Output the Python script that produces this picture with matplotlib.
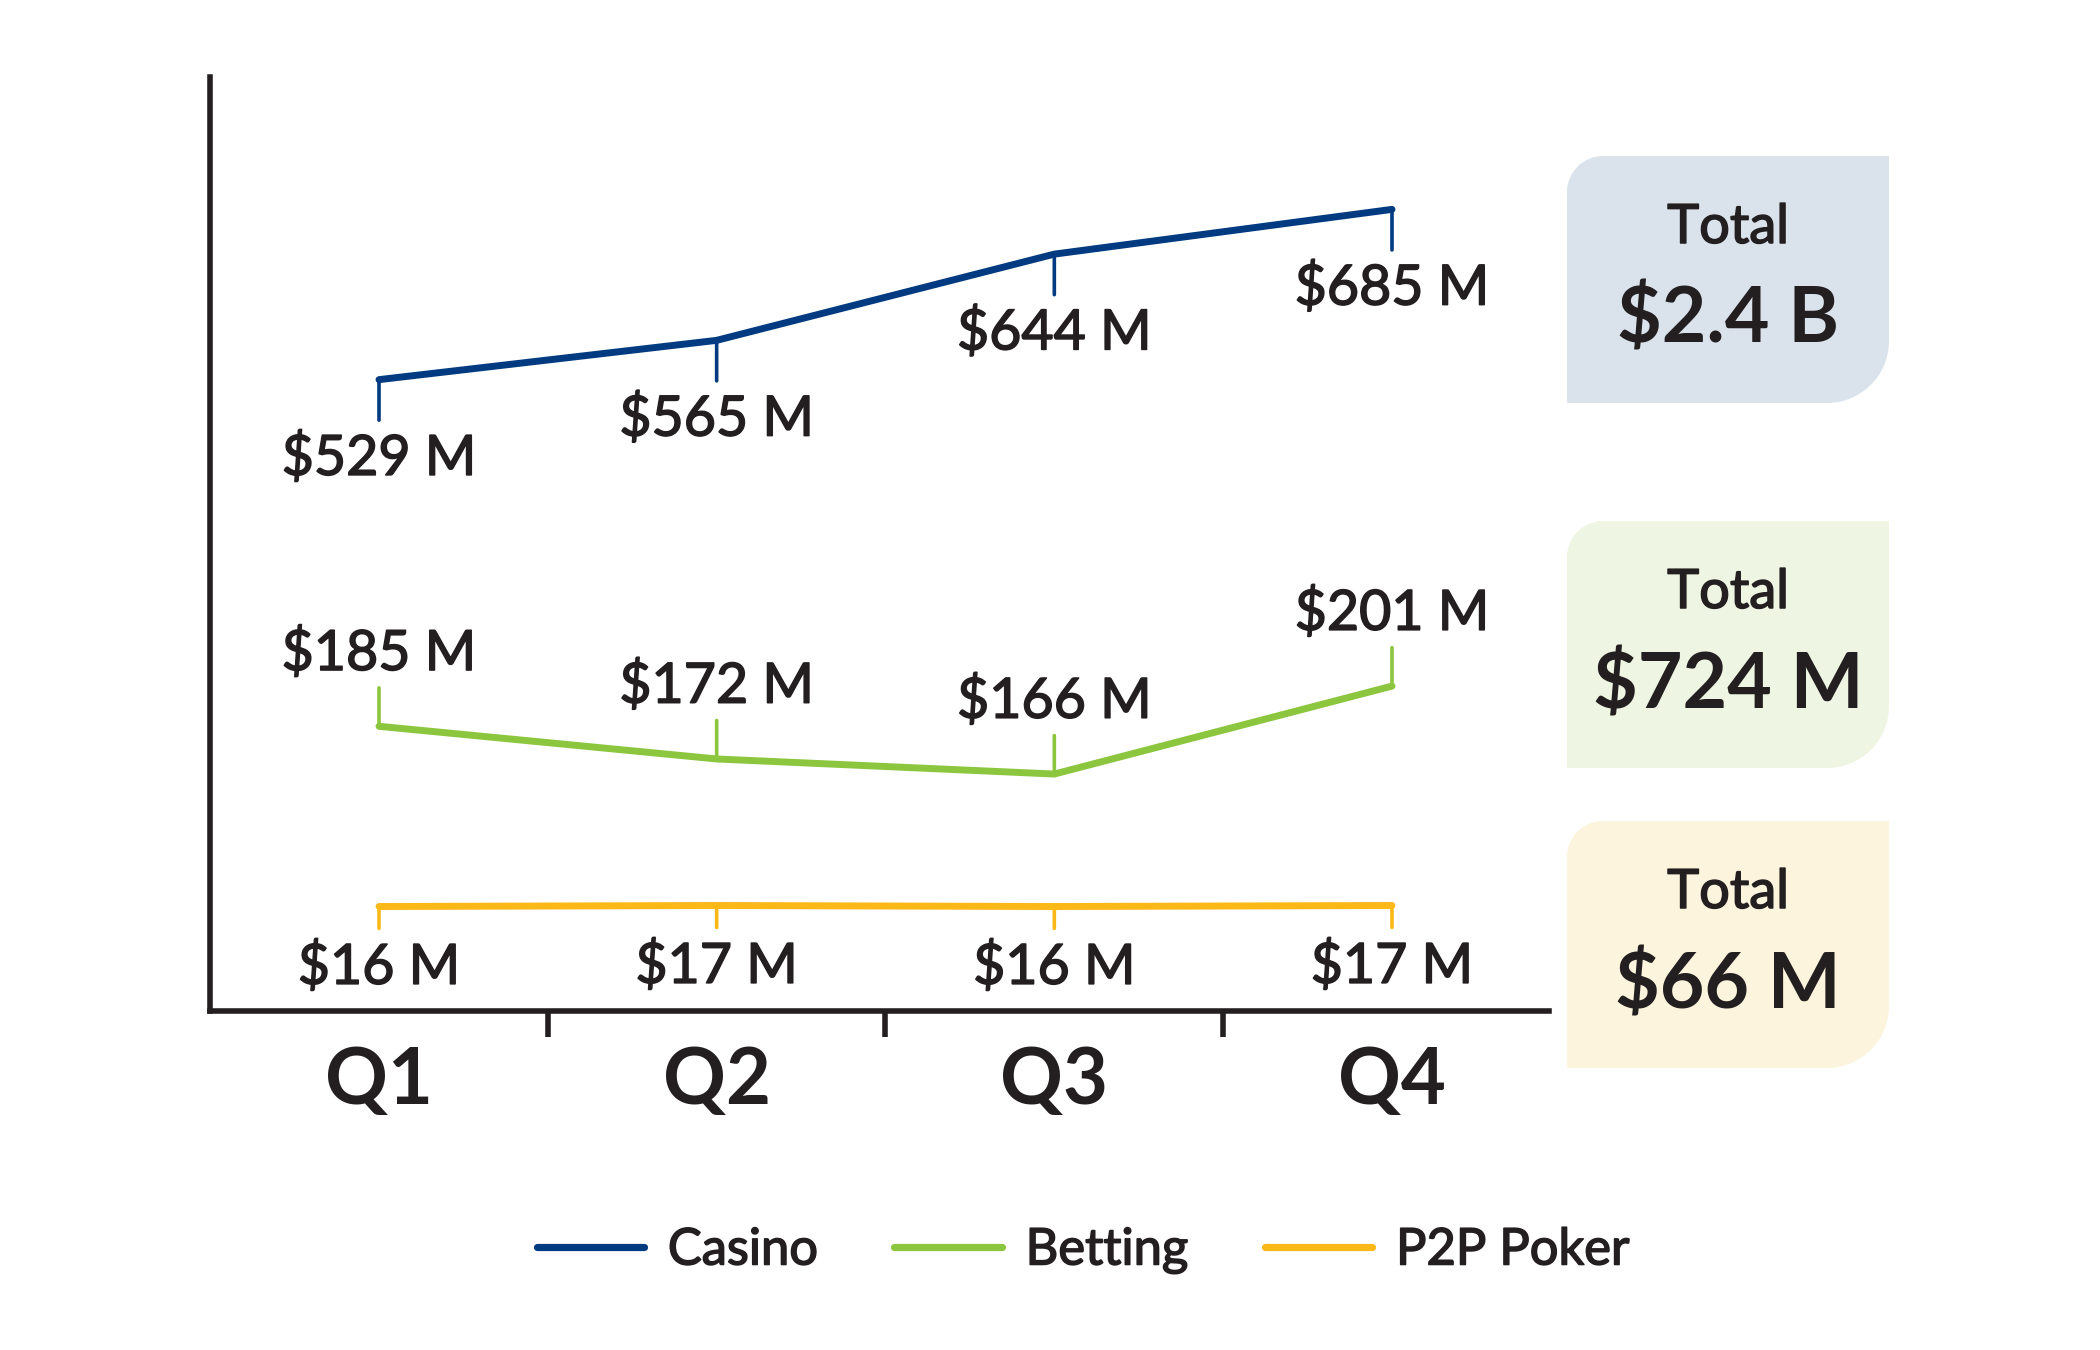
import numpy as np
import matplotlib
matplotlib.use("Agg")
import matplotlib.pyplot as plt
import matplotlib.patheffects as pe
from matplotlib.path import Path
from matplotlib.patches import PathPatch
from matplotlib.lines import Line2D

plt.rcParams['font.family'] = ['Lato', 'DejaVu Sans']

# data
quarters = ['Q1', 'Q2', 'Q3', 'Q4']
casino = [529, 565, 644, 685]
betting = [185, 172, 166, 201]
poker = [16, 17, 16, 17]
totals = ['$2.4 B', '$724 M', '$66 M']
series_names = ['Casino', 'Betting', 'P2P Poker']

TXT = '#231f20'
C_CASINO = '#003a80'
C_BET = '#8cc63f'
C_POKER = '#fbb817'

# the source uses a medium weight; fake it with a thin stroke on the regular face
medium = [pe.withStroke(linewidth=1.1, foreground=TXT)]

fig = plt.figure(figsize=(21, 13.5), dpi=100)

# background layer for the total boxes (pixel coords, y down)
bg = fig.add_axes([0, 0, 1, 1])
bg.set_xlim(0, 2100)
bg.set_ylim(1350, 0)
bg.axis('off')

ax = fig.add_axes([210 / 2100, 1 - 1011 / 1350, 1339 / 2100, 934 / 1350])
ax.patch.set_alpha(0)
x = np.arange(len(quarters))
ax.set_xlim(-0.5005, 3.465)

# each series sits in its own band, so give every one its own y scale
ax_bet = ax.twinx()
ax_pok = ax.twinx()
ax.set_ylim(-49.5, 806.3)
ax_bet.set_ylim(71.7, 443.4)
ax_pok.set_ylim(-89.5, 853.5)

for a in (ax_bet, ax_pok):
    a.axis('off')

for s in ['top', 'right']:
    ax.spines[s].set_visible(False)
for s in ['left', 'bottom']:
    ax.spines[s].set_linewidth(4.0)
    ax.spines[s].set_color(TXT)
    ax.spines[s].set_capstyle('projecting')
ax.set_yticks([])
ax.set_xticks(x)
ax.set_xticklabels(quarters, fontsize=56, fontweight='bold', color=TXT)
ax.tick_params(axis='x', which='major', length=0, pad=25)
ax.set_xticks(x[:-1] + 0.5, minor=True)
ax.tick_params(axis='x', which='minor', length=19, width=4.0, color=TXT, direction='out')


def draw_series(a, vals, color, stem, label_off):
    a.plot(x, vals, color=color, lw=5.0, solid_capstyle='round', solid_joinstyle='round', zorder=3)
    for xi, v in zip(x, vals):
        a.annotate('', xy=(xi, v), xytext=(0, stem), textcoords='offset points',
                   arrowprops=dict(arrowstyle='-', lw=2.6, color=color, shrinkA=0, shrinkB=0))
        a.annotate('$%d M' % v, xy=(xi, v), xytext=(0, label_off), textcoords='offset points',
                   ha='center', va='baseline', fontsize=40, color=TXT, path_effects=medium)


draw_series(ax, casino, C_CASINO, -29.2, -68.6)
draw_series(ax_bet, betting, C_BET, 27.7, 40.5)
draw_series(ax_pok, poker, C_POKER, -15.8, -55.7)


def leaf_box(x0, y0, x1, y1, r1, r2, color):
    k = 0.552
    verts = [(x0, y1), (x0, y0 + r1),
             (x0, y0 + r1 - k * r1), (x0 + r1 - k * r1, y0), (x0 + r1, y0),
             (x1, y0), (x1, y1 - r2),
             (x1, y1 - r2 + k * r2), (x1 - r2 + k * r2, y1), (x1 - r2, y1),
             (x0, y1)]
    codes = [Path.MOVETO, Path.LINETO,
             Path.CURVE4, Path.CURVE4, Path.CURVE4,
             Path.LINETO, Path.LINETO,
             Path.CURVE4, Path.CURVE4, Path.CURVE4,
             Path.CLOSEPOLY]
    bg.add_patch(PathPatch(Path(verts, codes), facecolor=color, edgecolor='none'))


box_colors = ['#dae3ec', '#eef5e2', '#fdf4dd']
box_tops = [156, 521, 821]
box_h = 247
for top, col, tot in zip(box_tops, box_colors, totals):
    leaf_box(1567, top, 1889, top + box_h, 36, 62, col)
    bg.text(1728, top + 67, 'Total', ha='center', va='center_baseline',
            fontsize=39, color=TXT, path_effects=medium)
    bg.text(1728, top + 158, tot, ha='center', va='center_baseline',
            fontsize=55.5, fontweight='bold', color=TXT)

handles = [Line2D([], [], color=c, lw=5.2, solid_capstyle='round')
           for c in (C_CASINO, C_BET, C_POKER)]
leg = fig.legend(handles, series_names, loc='center', bbox_to_anchor=(0.5157, 0.0735),
                 ncol=3, frameon=False, fontsize=36.5, handlelength=2.12,
                 handletextpad=0.47, columnspacing=1.5)
for t in leg.get_texts():
    t.set_color(TXT)
    t.set_path_effects(medium)

fig.savefig('out.png', dpi=100)
